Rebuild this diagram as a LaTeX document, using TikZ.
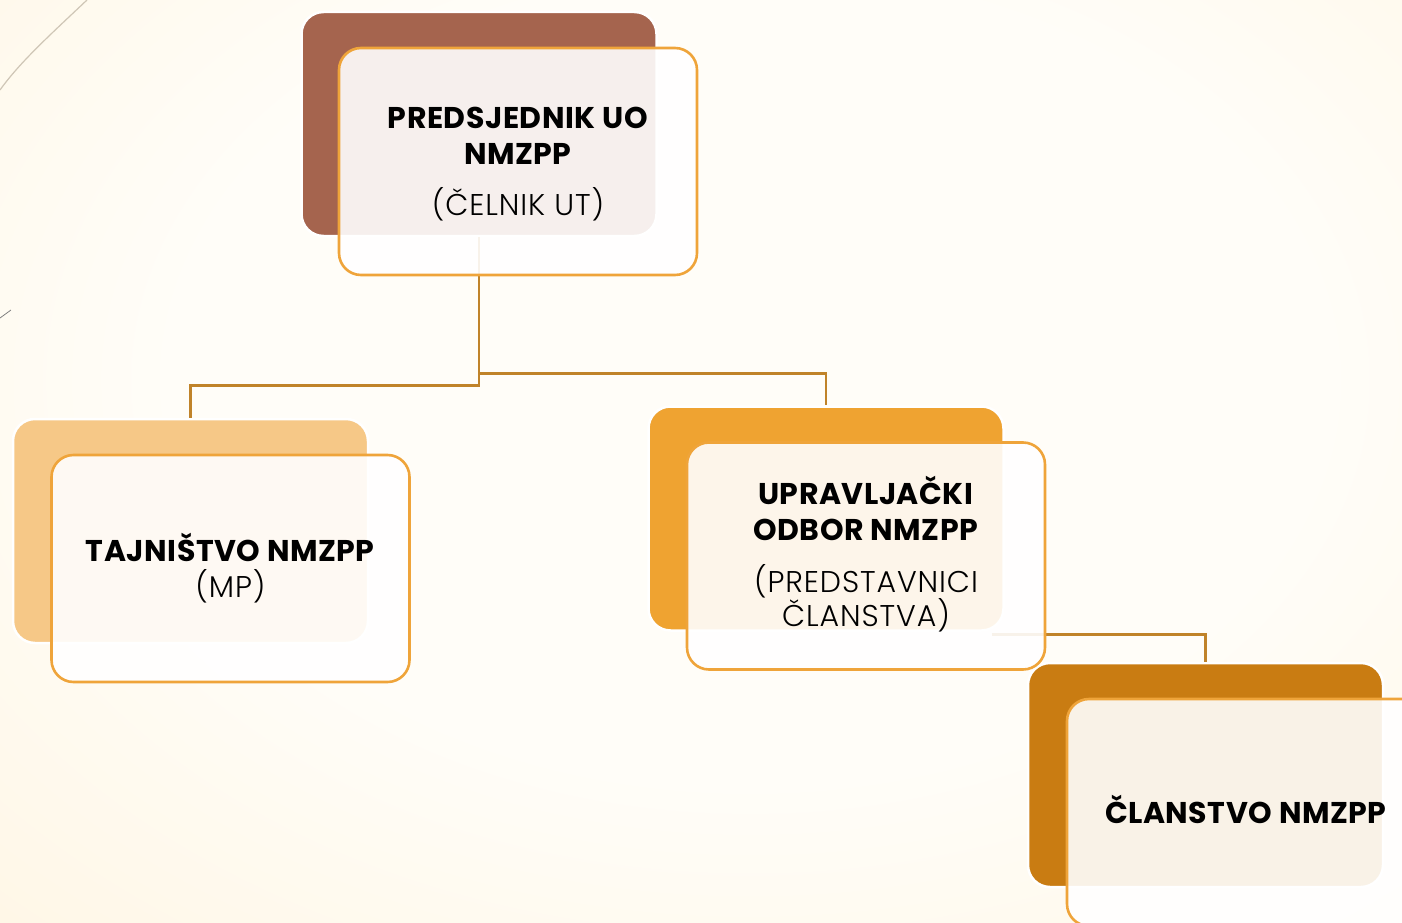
\documentclass[tikz,border=0pt]{standalone}
\usepackage{fontspec}
\setmainfont{Poppins}[UprightFont=* Light, UprightFeatures={LetterSpace=3}, BoldFont=* Bold, BoldFeatures={LetterSpace=1.7}]
\usetikzlibrary{calc}
\definecolor{bgin}{HTML}{FFFDF8}
\definecolor{bgmid}{HTML}{FEF1D5}
\definecolor{bgout}{HTML}{FDEDC8}
\definecolor{brownbox}{HTML}{A5644E}
\definecolor{lightorange}{HTML}{F6C887}
\definecolor{midorange}{HTML}{EFA331}
\definecolor{darkorange}{HTML}{C97C12}
\definecolor{frameorange}{HTML}{EFA43A}
\definecolor{linkcol}{HTML}{C0832A}
\definecolor{decoline}{HTML}{CFC6B6}
\pgfdeclareradialshading{bgshade}{\pgfpoint{0bp}{0bp}}{color(0bp)=(bgin); color(18bp)=(bgin); color(50bp)=(bgmid); color(72bp)=(bgout)}
\tikzset{
  backbox/.style={rectangle, rounded corners=22pt, minimum width=355pt, minimum height=224pt,
    inner sep=0pt, draw=white, line width=2.5pt},
  frontbox/.style={rectangle, rounded corners=22pt, minimum width=358pt, minimum height=227pt,
    inner sep=0pt, draw=frameorange, line width=2.6pt, fill=white, fill opacity=0.9},
  boxtext/.style={align=center, inner sep=0pt, font=\fontsize{30}{36}\selectfont, text=black},
  link/.style={draw=linkcol, line width=2.6pt}
}
\begin{document}
\begin{tikzpicture}[x=1pt,y=-1pt]
\useasboundingbox (0,0) rectangle (1402,923);
\shade[shading=bgshade] (-50,-180) rectangle (1550,940);
% decorative lines
\draw[decoline, line width=1.2pt] (87,0) .. controls (50,35) and (20,62) .. (0,90);
\draw[gray, line width=0.8pt] (0,318) -- (11,310);
% back boxes
\node[backbox, fill=brownbox] (b1) at (479,124) {};
\node[backbox, fill=lightorange] (b2) at (190.5,531) {};
\node[backbox, fill=midorange] (b3) at (826,518.5) {};
\node[backbox, fill=darkorange] (b4) at (1205.5,775) {};
% connectors
\draw[link] (b1.south) -- ++(0,148) -| (b2.north);
\draw[link] (b1.south) -- ++(0,136) -| (b3.north);
\draw[link] ($(b3.south east)+(-13,3)$) -| (b4.north);
% front boxes
\node[frontbox] (f1) at (518,161.5) {};
\node[frontbox] (f2) at (230.5,568.5) {};
\node[frontbox] (f3) at (866,556) {};
\node[frontbox] (f4) at (1246,812.5) {};
% texts
\node[boxtext] (t1) at ($(f1.center)+(0,3)$) {\textbf{PREDSJEDNIK UO}\\\textbf{NMZPP}\\[15pt](ČELNIK UT)};
\node[boxtext] (t2) at (f2.center) {\textbf{TAJNIŠTVO NMZPP}\\(MP)};
\node[boxtext] (t3) at ($(f3.center)+(0,-2)$) {\textbf{UPRAVLJAČKI}\\\textbf{ODBOR NMZPP}\\[16pt](PREDSTAVNICI\\[-2pt]ČLANSTVA)};
\node[boxtext] (t4) at ($(f4.center)+(0,-3)$) {\textbf{ČLANSTVO NMZPP}};
\end{tikzpicture}
\end{document}
